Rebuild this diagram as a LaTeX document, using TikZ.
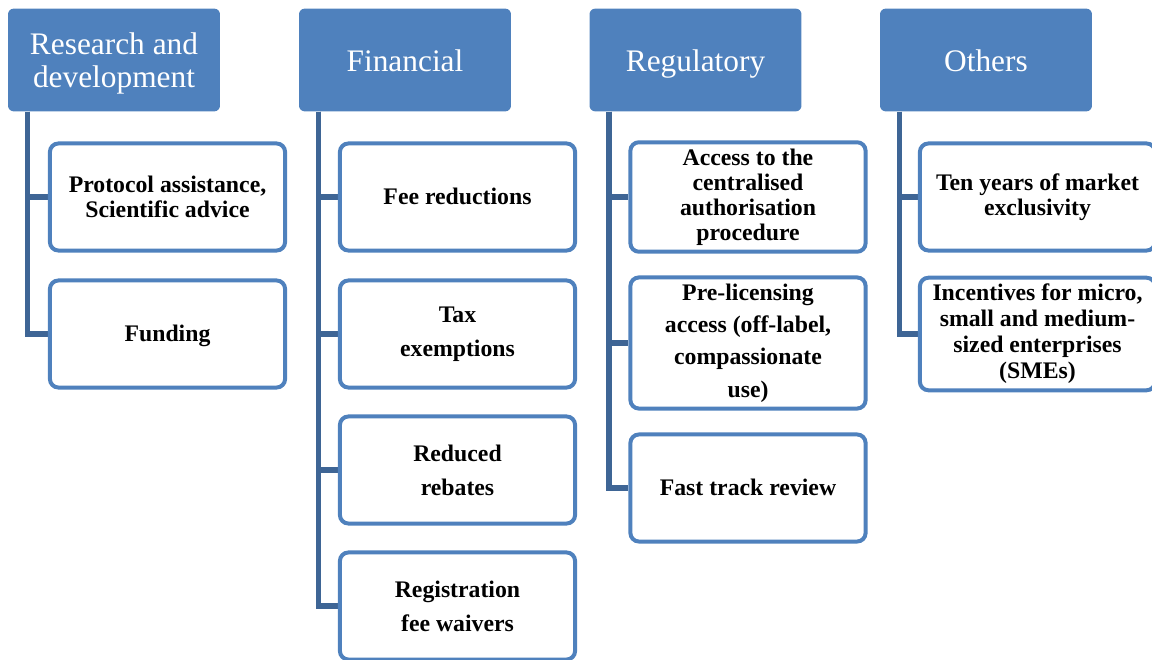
\documentclass[tikz,border=0pt]{standalone}
\usepackage{fontspec}
\setmainfont{Liberation Serif}
\usetikzlibrary{positioning,backgrounds}
\definecolor{headc}{HTML}{4F81BD}
\definecolor{linkc}{HTML}{3E6595}
\tikzset{
  head/.style={fill=headc,text=white,rounded corners=3pt,minimum width=3.92cm,minimum height=1.9cm,align=center,font=\fontsize{16.5}{17}\selectfont},
  leaf/.style={draw=headc,line width=2.1pt,fill=white,rounded corners=4.5pt,minimum width=4.35cm,minimum height=1.98cm,align=center,font=\bfseries\fontsize{12.5}{13.2}\selectfont},
  loose/.style={font=\bfseries\fontsize{12.5}{18}\selectfont},
  % same baseline for one-line texts with or without descenders
  oneline/.style 2 args={text height=#1,text depth=#2},
  link/.style={draw=linkc,line width=2.8pt}
}
\begin{document}
\begin{tikzpicture}[x=0.0185cm,y=-0.0185cm]
\useasboundingbox (0,0) rectangle (1152,660);
% column headers
\node[head,text height=32pt] (rd) at (114,60) {Research and\\development};
\node[head,oneline={15pt}{3pt}] (fi) at (405,60) {Financial};
\node[head,oneline={15pt}{3pt}] (re) at (695.5,60) {Regulatory};
\node[head,oneline={15pt}{3pt}] (ot) at (986,60) {Others};
% research and development
\node[leaf] (rd1) at (167.5,197) {Protocol assistance,\\Scientific advice};
\node[leaf,oneline={10.5pt}{2.7pt}] (rd2) at (167.5,334) {Funding};
% financial
\node[leaf,oneline={10.5pt}{2.7pt}] (fi1) at (457.5,197) {Fee reductions};
\node[leaf,loose] (fi2) at (457.5,334) {Tax\\exemptions};
\node[leaf,loose] (fi3) at (457.5,470) {Reduced\\rebates};
\node[leaf,loose] (fi4) at (457.5,606) {Registration\\fee waivers};
% regulatory
\node[leaf] (re1) at (748,197) {Access to the\\centralised\\authorisation\\procedure};
\node[leaf,font=\bfseries\fontsize{12.5}{17}\selectfont,minimum height=2.33cm] (re2) at (748,343) {Pre-licensing\\access (off-label,\\compassionate\\use)};
\node[leaf,oneline={10.5pt}{2.7pt}] (re3) at (748,488) {Fast track review};
% others
\node[leaf] (ot1) at (1037.5,197) {Ten years of market\\exclusivity};
\node[leaf,font=\bfseries\fontsize{12.5}{13.7}\selectfont] (ot2) at (1037.5,334) {Incentives for micro,\\small and medium-\\sized enterprises\\(SMEs)};
% connectors
\begin{scope}[on background layer]
\coordinate (rdt) at ([xshift=0.37cm]rd.south west);
\coordinate (fit) at ([xshift=0.37cm]fi.south west);
\coordinate (ret) at ([xshift=0.37cm]re.south west);
\coordinate (ott) at ([xshift=0.37cm]ot.south west);
\foreach \s/\t in {rdt/rd1,rdt/rd2,fit/fi1,fit/fi2,fit/fi3,fit/fi4,ret/re1,ret/re2,ret/re3,ott/ot1,ott/ot2}
  \draw[link] (\s) |- (\t.west);
\end{scope}
\end{tikzpicture}
\end{document}
